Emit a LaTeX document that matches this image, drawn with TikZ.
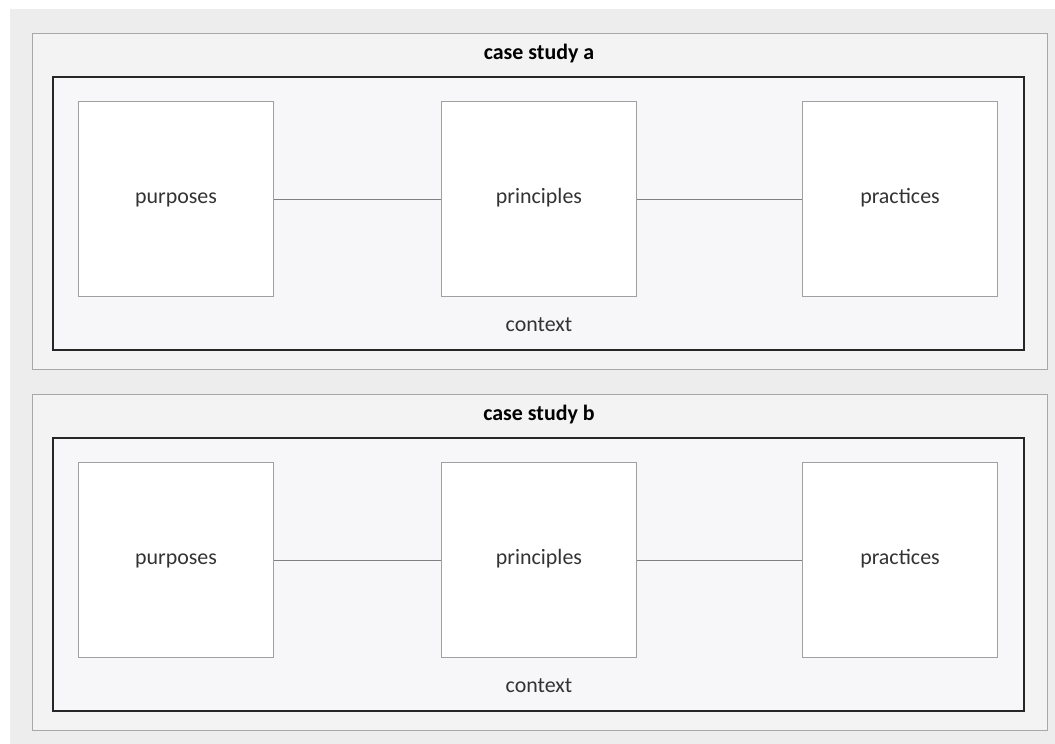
\documentclass[tikz,border=0pt]{standalone}
\usepackage{fontspec}
\setmainfont{Carlito}
\usepackage{tikz}
\definecolor{bggray}{HTML}{EDEDEE}
\definecolor{panelfill}{HTML}{F3F3F4}
\definecolor{framefill}{HTML}{F7F7F9}
\definecolor{panelline}{HTML}{A8A8A8}
\definecolor{boxline}{HTML}{A0A0A0}
\definecolor{txtgray}{HTML}{333333}
\def\casefont{\fontsize{15.6}{18}\selectfont}

\begin{document}
\begin{tikzpicture}[x=0.025cm,y=-0.025cm,
        panel/.style={draw=panelline,fill=panelfill,line width=0.7pt},
        frame/.style={draw=black!85,fill=framefill,line width=1.5pt},
        pbox/.style={draw=boxline,fill=white,line width=0.7pt,
            minimum width=4.85cm,minimum height=4.85cm,inner sep=0pt,
            text height=1.7ex,text depth=0.5ex,
            text=txtgray,font=\casefont},
        label/.style={text=txtgray,font=\casefont,inner sep=0pt},
        link/.style={draw=boxline!80!black,line width=0.6pt}]
    \useasboundingbox (0,0) rectangle (1055,744);
    \fill[bggray] (10,9) rectangle (1055,744);
    \foreach \o/\c in {0/a,361/b}{
        \draw[panel] (32,33+\o) rectangle (1047,369+\o);
        \draw[frame] (53,77+\o) rectangle (1024,350+\o);
        \node[label,font=\casefont\bfseries,text=black] (title-\c) at (539,54+\o) {case study \c};
        \node[label] (context-\c) at (539,325+\o) {context};
        \node[pbox] (purposes-\c)   at (176,199+\o) {purposes};
        \node[pbox] (principles-\c) at (539,199+\o) {principles};
        \node[pbox] (practices-\c)  at (900,199+\o) {practices};
        \draw[link] (purposes-\c) -- (principles-\c);
        \draw[link] (principles-\c) -- (practices-\c);
    }
\end{tikzpicture}
\end{document}
